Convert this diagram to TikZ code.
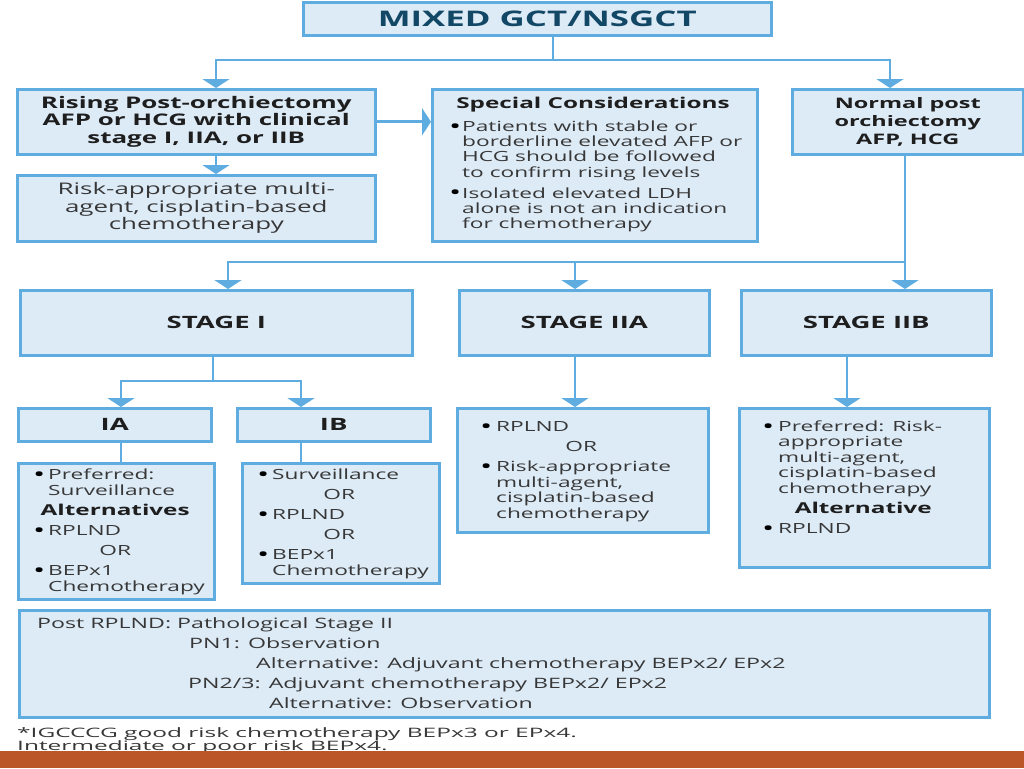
\documentclass[tikz,border=0pt]{standalone}
\usepackage{fontspec}
\setmainfont{Open Sans}[FakeStretch=1.62]
\newfontfamily\footfont{Open Sans}[FakeStretch=1.88]
\usetikzlibrary{arrows.meta}
\definecolor{bfill}{RGB}{221,235,247}
\definecolor{bline}{RGB}{95,172,224}
\definecolor{ttl}{RGB}{18,72,102}
\definecolor{hd}{RGB}{30,30,30}
\definecolor{tx}{RGB}{55,55,55}
\definecolor{barc}{RGB}{186,86,40}
\newcommand\mybul[1]{\makebox[#1][l]{\textcolor{black}{\fontsize{20}{20}\selectfont\raisebox{-1.8pt}{\textbullet}}}}
\newcommand\myind[1]{\hspace*{#1}}
\newcommand\mytop{\rule{0pt}{14pt}}
\begin{document}
\begin{tikzpicture}[x=1pt,y=-1pt,
  box/.style={draw=bline, fill=bfill, line width=2.6pt, inner sep=0pt, anchor=north west},
  conn/.style={draw=bline, line width=2.8pt},
  arr/.style={conn, -{Triangle[width=27pt,length=9pt]}},
  hbold/.style={text=hd, font=\bfseries\fontsize{16}{17.5}\selectfont, align=center},
  stagel/.style={text=hd, font=\bfseries\fontsize{17}{18}\selectfont},
  txt/.style={text=tx, inner sep=0pt, anchor=north west, align=left}]
\useasboundingbox (0,0) rectangle (1024,768);
\fill[white] (0,0) rectangle (1024,768);

% boxes
\node[box, minimum width=468pt, minimum height=33pt, text=ttl,
      font=\bfseries\fontsize{21.5}{24}\selectfont] (title) at (302,1) {MIXED GCT/NSGCT};
\node[box, minimum width=358pt, minimum height=65pt, hbold] (rising) at (16,88)
  {Rising Post-orchiectomy\\AFP or HCG with clinical\\stage I, IIA, or IIB};
\node[box, minimum width=358pt, minimum height=66pt, text=tx, align=center,
      font=\fontsize{16}{17.5}\selectfont] (risk) at (16,174)
  {Risk-appropriate multi-\\agent, cisplatin-based\\chemotherapy};
\node[box, minimum width=325pt, minimum height=152pt] (special) at (431,88) {};
\node[box, minimum width=231pt, minimum height=65pt, hbold,
      font=\bfseries\fontsize{14.5}{18}\selectfont] (normal) at (791,88)
  {Normal post\\orchiectomy\\AFP, HCG};

\node[box, minimum width=392pt, minimum height=65pt, stagel] (st1) at (19,289) {STAGE I};
\node[box, minimum width=250pt, minimum height=65pt, stagel] (st2a) at (458,289) {STAGE IIA};
\node[box, minimum width=250pt, minimum height=65pt, stagel] (st2b) at (740,289) {STAGE IIB};

\node[box, minimum width=193pt, minimum height=33pt, stagel] (ia) at (17,407) {IA};
\node[box, minimum width=193pt, minimum height=33pt, stagel] (ib) at (236,407) {IB};

\node[box, minimum width=196pt, minimum height=136pt] (iad) at (17,462) {};
\node[box, minimum width=197pt, minimum height=120pt] (ibd) at (241,462) {};
\node[box, minimum width=251pt, minimum height=124pt] (iiad) at (456,407) {};
\node[box, minimum width=250pt, minimum height=159pt] (iibd) at (738,407) {};
\node[box, minimum width=970pt, minimum height=107pt] (post) at (18,609) {};

% texts inside boxes
\node[text=hd, font=\bfseries\fontsize{15}{17}\selectfont] (sph) at (593,105) {Special Considerations};
\node[txt, font=\fontsize{14}{15.3}\selectfont] (spt) at (449,117)
  {\mytop\mybul{13pt}Patients with stable or\\
   \myind{13pt}borderline elevated AFP or\\
   \myind{13pt}HCG should be followed\\
   \myind{13pt}to confirm rising levels\\[5.7pt]
   \mybul{13pt}Isolated elevated LDH\\
   \myind{13pt}alone is not an indication\\
   \myind{13pt}for chemotherapy};

\node[txt, font=\fontsize{14}{16}\selectfont] (iat) at (33,465)
  {\mytop\mybul{15pt}Preferred:\\
   \myind{15pt}Surveillance\\[4pt]
   \makebox[164pt]{\textcolor{hd}{\bfseries\fontsize{15}{16}\selectfont Alternatives}}\\[4pt]
   \mybul{15pt}RPLND\\[4pt]
   \makebox[164pt]{OR}\\[4pt]
   \mybul{15pt}BEPx1\\
   \myind{15pt}Chemotherapy};

\node[txt, font=\fontsize{14}{16}\selectfont] (ibt) at (257,465)
  {\mytop\mybul{15pt}Surveillance\\[4pt]
   \makebox[164pt]{OR}\\[4pt]
   \mybul{15pt}RPLND\\[4pt]
   \makebox[164pt]{OR}\\[4pt]
   \mybul{15pt}BEPx1\\
   \myind{15pt}Chemotherapy};

\node[txt, font=\fontsize{14}{15.5}\selectfont] (iiat) at (480,417)
  {\mytop\mybul{16pt}RPLND\\[4.5pt]
   \makebox[202pt]{OR}\\[5pt]
   \mybul{16pt}Risk-appropriate\\
   \myind{16pt}multi-agent,\\
   \myind{16pt}cisplatin-based\\
   \myind{16pt}chemotherapy};

\node[txt, font=\fontsize{14}{15.5}\selectfont] (iibt) at (762,417)
  {\mytop\mybul{16pt}Preferred: Risk-\\
   \myind{16pt}appropriate\\
   \myind{16pt}multi-agent,\\
   \myind{16pt}cisplatin-based\\
   \myind{16pt}chemotherapy\\[4.5pt]
   \makebox[202pt]{\textcolor{hd}{\bfseries\fontsize{15}{16}\selectfont Alternative}}\\[4.5pt]
   \mybul{16pt}RPLND};

\node[txt, font=\fontsize{14.3}{20}\selectfont] (postt) at (37,614)
  {\mytop Post RPLND: Pathological Stage II\\
   \myind{152pt}PN1: Observation\\
   \myind{219pt}Alternative: Adjuvant chemotherapy BEPx2/ EPx2\\
   \myind{151pt}PN2/3: Adjuvant chemotherapy BEPx2/ EPx2\\
   \myind{232pt}Alternative: Observation};

\node[txt, font=\footfont\fontsize{13}{13}\selectfont] (foot) at (17,723)
  {\mytop *IGCCCG good risk chemotherapy BEPx3 or EPx4.\\
   Intermediate or poor risk BEPx4.};

% connectors
\coordinate (j0) at (553,60);
\coordinate (j1) at (216,60);
\coordinate (j2) at (890,60);
\draw[conn] (title.south -| j0) -- (j0);
\draw[arr] (j0) -| (rising.north -| j1);
\draw[arr] (j0) -| (normal.north -| j2);
\draw[arr] (rising.south -| j1) -- (risk.north -| j1);
\draw[arr] (rising.east) -- (special.west |- rising.east);

\coordinate (k0) at (228,262);
\coordinate (k1) at (575,262);
\coordinate (k2) at (905,262);
\draw[arr] (normal.south -| k2) -- (st2b.north -| k2);
\draw[arr] (k2) -| (st1.north -| k0);
\draw[arr] (k1) -- (st2a.north -| k1);

\coordinate (m0) at (213,381);
\coordinate (m1) at (121,381);
\coordinate (m2) at (301,381);
\coordinate (m3) at (847,381);
\draw[conn] (st1.south -| m0) -- (m0);
\draw[arr] (m0) -| (ia.north -| m1);
\draw[arr] (m0) -| (ib.north -| m2);
\draw[conn] (ia.south -| m1) -- (iad.north -| m1);
\draw[conn] (ib.south -| m2) -- (ibd.north -| m2);
\draw[arr] (st2a.south -| k1) -- (iiad.north -| k1);
\draw[arr] (st2b.south -| m3) -- (iibd.north -| m3);

% bottom bar
\fill[barc] (0,751) rectangle (1024,768);
\end{tikzpicture}
\end{document}
